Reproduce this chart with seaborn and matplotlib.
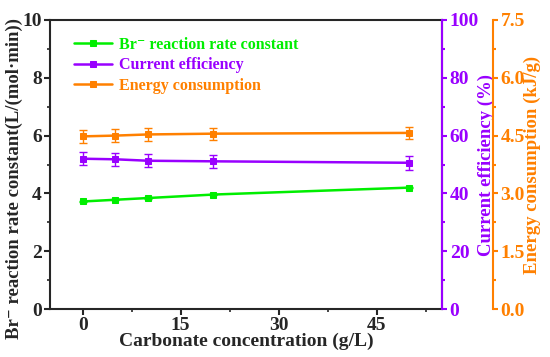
import numpy as np
import pandas as pd
import matplotlib
matplotlib.use("Agg")
import matplotlib.pyplot as plt
import seaborn as sns
from matplotlib.ticker import MultipleLocator, FormatStrFormatter

# Données
carbonate = [0, 5, 10, 20, 50]
br_rate = [3.72, 3.78, 3.84, 3.96, 4.20]
br_err = [0.02, 0.02, 0.02, 0.02, 0.02]
current_eff = [52.0, 51.8, 51.3, 51.1, 50.6]
ce_err = [2.3, 2.3, 2.3, 2.3, 2.5]
energy = [4.48, 4.50, 4.53, 4.55, 4.57]
en_err = [0.16, 0.16, 0.16, 0.16, 0.16]

GREEN = "#00EE00"
PURPLE = "#9900FF"
ORANGE = "#FF8000"

sns.set_style("ticks")
plt.rcParams["font.family"] = ["Liberation Serif", "DejaVu Serif"]
plt.rcParams["font.weight"] = "bold"
plt.rcParams["axes.labelweight"] = "bold"
plt.rcParams["xtick.direction"] = "out"
plt.rcParams["ytick.direction"] = "out"

df = pd.DataFrame({"x": carbonate, "br": br_rate, "ce": current_eff, "en": energy})

fig = plt.figure(figsize=(5.5, 3.57), dpi=100)
ax = fig.add_axes([50 / 550, 1 - 309 / 357, 392 / 550, 289 / 357])
ax2 = ax.twinx()
ax3 = ax.twinx()
ax3.spines["right"].set_position(("axes", 1 + 51 / 392))

# Séries
sns.lineplot(data=df, x="x", y="br", ax=ax, color=GREEN, marker="s", markersize=5,
             markeredgecolor=GREEN, lw=1.8, label="Br\u207b reaction rate constant", legend=False)
ax.errorbar(carbonate, br_rate, yerr=br_err, fmt="none", ecolor=GREEN, capsize=3, lw=1)

sns.lineplot(data=df, x="x", y="ce", ax=ax2, color=PURPLE, marker="s", markersize=5,
             markeredgecolor=PURPLE, lw=1.8, label="Current efficiency", legend=False)
ax2.errorbar(carbonate, current_eff, yerr=ce_err, fmt="none", ecolor=PURPLE, capsize=3, lw=1)

sns.lineplot(data=df, x="x", y="en", ax=ax3, color=ORANGE, marker="s", markersize=5,
             markeredgecolor=ORANGE, lw=1.8, label="Energy consumption", legend=False)
ax3.errorbar(carbonate, energy, yerr=en_err, fmt="none", ecolor=ORANGE, capsize=3, lw=1)

# Axes
ax.set_xlim(-5, 55)
ax.set_ylim(0, 10)
ax2.set_ylim(0, 100)
ax3.set_ylim(0, 7.5)
ax.xaxis.set_major_locator(MultipleLocator(15))
ax.xaxis.set_minor_locator(MultipleLocator(7.5))
ax.yaxis.set_major_locator(MultipleLocator(2))
ax.yaxis.set_minor_locator(MultipleLocator(1))
ax2.yaxis.set_major_locator(MultipleLocator(20))
ax2.yaxis.set_minor_locator(MultipleLocator(10))
ax3.yaxis.set_major_locator(MultipleLocator(1.5))
ax3.yaxis.set_minor_locator(MultipleLocator(0.75))
ax3.yaxis.set_major_formatter(FormatStrFormatter("%.1f"))

ax.set_xlabel("Carbonate concentration (g/L)", fontsize=14, labelpad=-1)
ax.set_ylabel("Br\u207b reaction rate constant(L/(mol\u00b7min))", fontsize=13.5)
ax.yaxis.set_label_coords(-0.068, 0.45)
ax2.set_ylabel("Current efficiency (%)", fontsize=13.5, color=PURPLE, labelpad=-1)
ax3.set_ylabel("Energy consumption (kJ/g)", fontsize=13.5, color=ORANGE, labelpad=-1)

for a in (ax, ax2, ax3):
    for s in a.spines.values():
        s.set_linewidth(1.5)
ax.tick_params(axis="both", which="major", labelsize=14, width=1.5, length=4, pad=2)
ax.tick_params(axis="both", which="minor", width=1.2, length=2)
ax2.spines["right"].set_color(PURPLE)
ax2.tick_params(axis="y", which="both", colors=PURPLE, width=1.5, labelsize=14, pad=2)
ax2.tick_params(axis="y", which="minor", length=2)
ax3.spines["right"].set_color(ORANGE)
ax3.tick_params(axis="y", which="both", colors=ORANGE, width=1.5, labelsize=14, pad=2)
ax3.tick_params(axis="y", which="minor", length=2)
for a in (ax2, ax3):
    a.spines["top"].set_visible(False)
    a.spines["left"].set_visible(False)
    a.spines["bottom"].set_visible(False)

# Légende
handles = ax.get_lines()[:1] + ax2.get_lines()[:1] + ax3.get_lines()[:1]
leg = ax.legend(handles, [h.get_label() for h in handles], loc="upper left",
                frameon=False, fontsize=11.5, handlelength=2.4, handletextpad=0.4,
                labelspacing=0.3, markerscale=0.8, borderaxespad=0.0,
                bbox_to_anchor=(0.045, 0.965))
for t, c in zip(leg.get_texts(), (GREEN, PURPLE, ORANGE)):
    t.set_color(c)

fig.savefig("out.png", dpi=100)
